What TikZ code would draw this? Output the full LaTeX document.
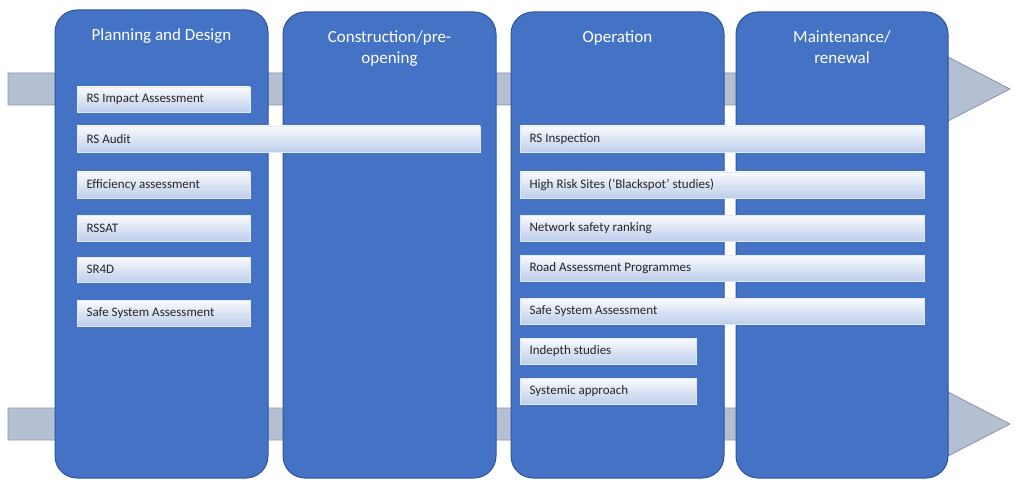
\documentclass[tikz,border=0pt]{standalone}
\usepackage{fontspec}
\setmainfont{Carlito}
\begin{document}
\begin{tikzpicture}[x=1pt,y=-1pt,
  col/.style={draw=colb,fill=colf,rounded corners=22pt,line width=1pt},
  bar/.style={draw=white!85!colf,top color=white!97!colf,bottom color=white!65!colf,anchor=north west,inner sep=0pt,text depth=0pt},
  bartxt/.style={anchor=west,font=\fontsize{13}{15}\selectfont,text=black!85},
  ttl/.style={text=white,font=\fontsize{17}{21}\selectfont,align=center,anchor=north},
  arr/.style={fill=arrf,draw=arrb,line width=0.8pt}]
\definecolor{colf}{HTML}{4472C4}
\definecolor{colb}{HTML}{2F5597}
\definecolor{arrf}{HTML}{B4C0D2}
\definecolor{arrb}{HTML}{8497B0}
\useasboundingbox (0,0) rectangle (1016,489);
\fill[white] (0,0) rectangle (1016,489);
\draw[arr] (8,73) -- (948,73) -- (948,57) -- (1010,89) -- (948,121) -- (948,105) -- (8,105) -- cycle;
\draw[arr] (8,408) -- (948,408) -- (948,392) -- (1010,424) -- (948,456) -- (948,440) -- (8,440) -- cycle;
\draw[col] (55,10) rectangle (268,478);
\draw[col] (283,12) rectangle (496,478);
\draw[col] (511,12) rectangle (724,478);
\draw[col] (736,12) rectangle (948,478);
\node[ttl] (t1) at (161.5,25) {Planning and Design};
\node[ttl] (t2) at (389.5,27) {Construction/pre-\\opening};
\node[ttl] (t3) at (617.5,27) {Operation};
\node[ttl] (t4) at (842,27) {Maintenance/\\renewal};
\foreach \n/\xa/\xb/\ya/\yb/\t in {
 a/77/250/87/112/RS Impact Assessment,
 b/77/480/126/152/RS Audit,
 c/77/250/172/198/Efficiency assessment,
 d/77/250/215/241/RSSAT,
 e/77/250/257/282/SR4D,
 f/77/250/300/326/Safe System Assessment,
 g/520/924/126/152/RS Inspection,
 h/520/924/172/198/High Risk Sites (‘Blackspot’ studies),
 i/520/924/215/241/Network safety ranking,
 j/520/924/255/281/Road Assessment Programmes,
 k/520/924/298/324/Safe System Assessment,
 l/520/696/338/364/Indepth studies,
 m/520/696/378/404/Systemic approach}{
  \path[bar] (\xa,\ya) rectangle (\xb,\yb);
  \node[bartxt] (\n) at (\xa+6,{(\ya+\yb)/2}) {\t};
}
\end{tikzpicture}
\end{document}
